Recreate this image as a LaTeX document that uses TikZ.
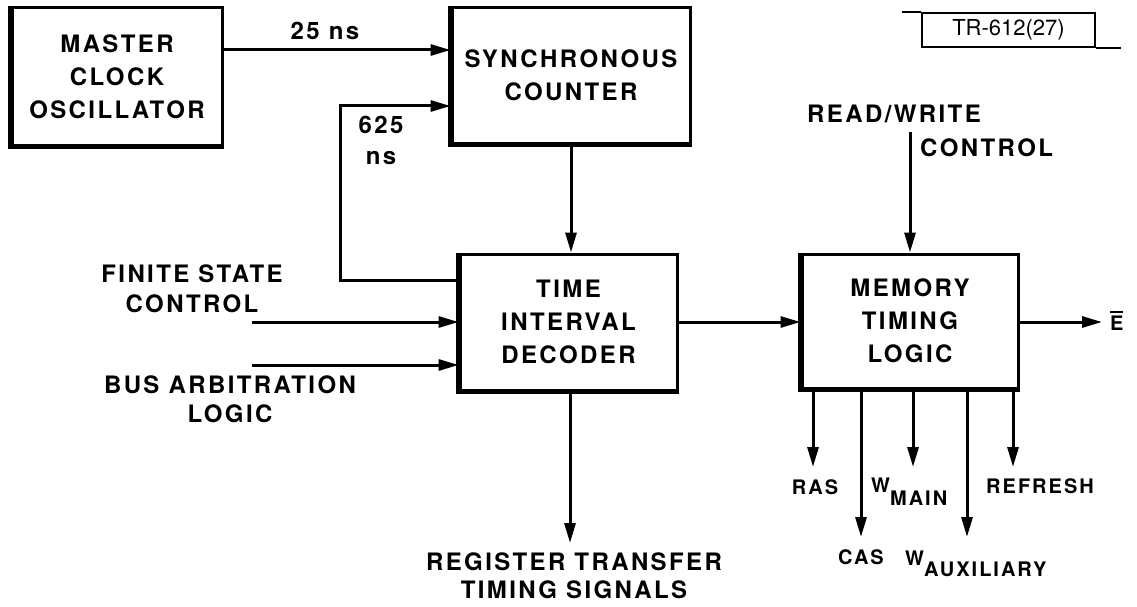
\documentclass[tikz,border=0pt]{standalone}
\usepackage{fontspec}
\setmainfont{TeX Gyre Heros}[LetterSpace=10]
\newfontfamily\tagfont{TeX Gyre Heros}
\usetikzlibrary{arrows.meta}
\tikzset{
  x=1pt,y=-1pt,
  every node/.style={font=\bfseries\fontsize{24}{33}\selectfont,inner sep=0pt},
  blk/.style={draw,line width=3pt,align=center},
  heavy/.style={line width=5pt,line cap=butt},
  sig/.style={-{Triangle[length=20pt,width=11pt]},line width=3pt},
  sub/.style={font=\bfseries\fontsize{20}{24}\selectfont},
  tag/.style={draw,line width=1.8pt,font=\tagfont\fontsize{22}{24}\selectfont},
  tagline/.style={line width=1.8pt}
}
\begin{document}
\begin{tikzpicture}
  \useasboundingbox (0,0) rectangle (1137,607);

  % blocks
  \node[blk,minimum width=210pt,minimum height=137pt] (clock) at (117,76.5) {MASTER\\CLOCK\\OSCILLATOR};
  \node[blk,minimum width=238pt,minimum height=135pt] (counter) at (571,75.5) {SYNCHRONOUS\\COUNTER};
  \node[blk,minimum width=217pt,minimum height=136pt] (decoder) at (568.5,322) {TIME\\INTERVAL\\DECODER};
  \node[blk,minimum width=216pt,minimum height=134pt] (memory) at (910,321) {MEMORY\\TIMING\\LOGIC};
  % heavier left and bottom edges
  \foreach \b in {clock,counter,decoder,memory}
    \draw[heavy] (\b.north west) |- (\b.south east);

  % report tag
  \node[tag,minimum width=173pt,minimum height=34pt] (report) at (1008.5,30) {TR-612(27)};
  \draw[tagline] (report.north west) -- ++(-19,0);
  \draw[tagline] (report.south east) -- ++(25,0);

  % free ends
  \coordinate (fbturn) at (340,106);
  \coordinate (fsc) at (252,322);
  \coordinate (bus) at (252,365);
  \coordinate (rw) at (910,132);
  \coordinate (ebar) at (1102,322);
  \coordinate (rtts) at (570,543);

  % connectors
  \draw[sig] ([yshift=26.5pt]clock.east) -- ([yshift=26.5pt]clock.east -| counter.west);
  \draw[sig] ([yshift=42pt]decoder.west) -| (fbturn) -- (fbturn -| counter.west);
  \draw[sig] (counter.south) -- (counter.south |- decoder.north);
  \draw[sig] (fsc) -- (fsc -| decoder.west);
  \draw[sig] (bus) -- (bus -| decoder.west);
  \draw[sig] (decoder.east) -- (decoder.east -| memory.west);
  \draw[sig] (rw) -- (rw |- memory.north);
  \draw[sig] (memory.east |- ebar) -- (ebar);
  \draw[sig] (decoder.south -| rtts) -- (rtts);
  \foreach \name/\x/\y in {ras/813/467,cas/861/537,wmain/913/467,waux/967/537,refresh/1013/467}{
    \coordinate (\name) at (\x,\y);
    \draw[sig] (memory.south -| \name) -- (\name);
  }

  % labels
  \node[anchor=base] (l25) at (325,40) {25 ns};
  \node[align=center,font=\bfseries\fontsize{24}{31}\selectfont] (l625) at (381,140) {625\\ns};
  \node[align=center,font=\bfseries\fontsize{24}{30}\selectfont] (lfsc) at (192,289) {FINITE STATE\\CONTROL};
  \node[align=center,font=\bfseries\fontsize{24}{29}\selectfont] (lbus) at (230,399) {BUS ARBITRATION\\LOGIC};
  \node[align=center,font=\bfseries\fontsize{24}{28}\selectfont] (lrtts) at (574,576) {REGISTER TRANSFER\\TIMING SIGNALS};
  \node[anchor=base west] (lrw) at (807,122) {READ/WRITE};
  \node[anchor=base west] (lrwc) at (920,157) {CONTROL};
  \node[sub,anchor=base west] (lebar) at (1110,330) {\rlap{\rule[17pt]{13pt}{2.2pt}}E};
  \node[sub,anchor=base] (lras) at (815,494) {RAS};
  \node[sub,anchor=base] (lcas) at (861,564) {CAS};
  \node[sub,anchor=base west] (lwmain) at (871,492) {W\lower13pt\hbox{MAIN}};
  \node[sub,anchor=base west] (lwaux) at (905,565) {W\lower11pt\hbox{AUXILIARY}};
  \node[sub,anchor=base] (lrefresh) at (1040,493) {REFRESH};
\end{tikzpicture}
\end{document}
